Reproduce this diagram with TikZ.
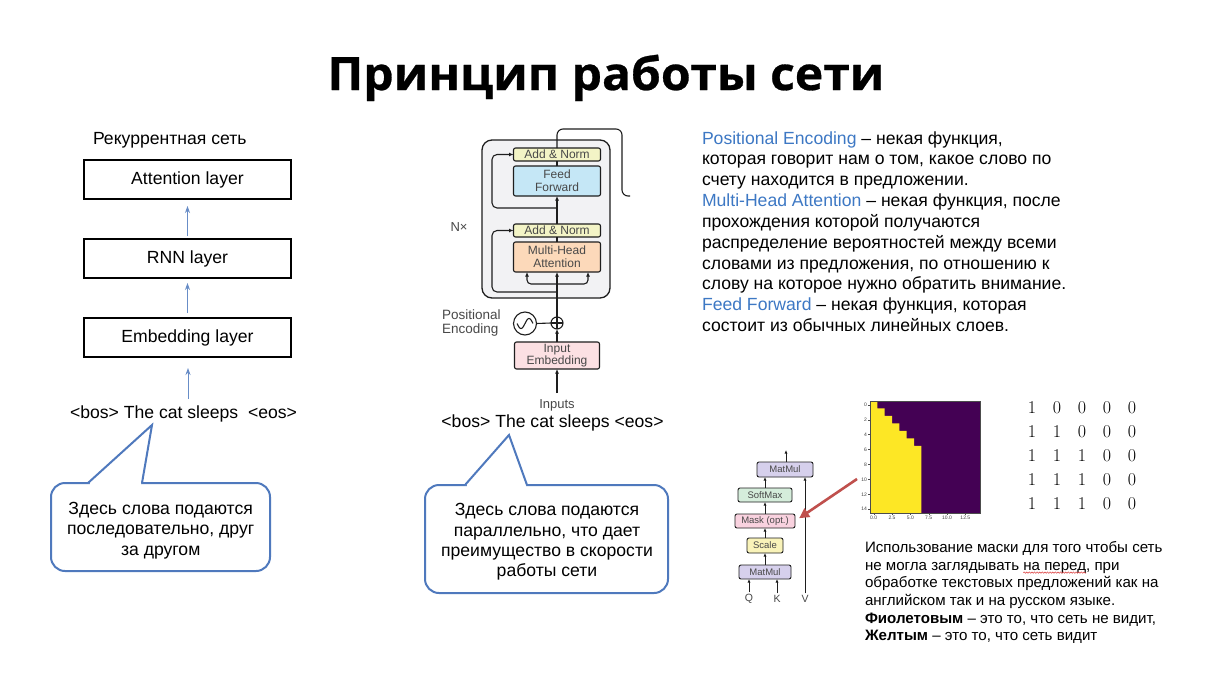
\documentclass[tikz,border=0pt]{standalone}
\usepackage{fontspec}
\setsansfont{Liberation Sans}
\newfontfamily\titlefont{Open Sans}[BoldFeatures={FakeBold=0.6}]
\usetikzlibrary{arrows.meta,decorations.pathmorphing}
\newcommand\setfs[2]{\fontsize{#1}{#2}\selectfont}
\definecolor{spellred}{RGB}{220,60,60}
\definecolor{calloutblue}{RGB}{79,121,189}
\definecolor{arrowblue}{RGB}{104,141,199}
\definecolor{termblue}{RGB}{61,120,196}
\definecolor{tfgray}{RGB}{72,72,72}
\definecolor{tfdark}{RGB}{30,30,30}
\definecolor{tfpanel}{RGB}{242,242,244}
\definecolor{normfill}{RGB}{243,244,198}
\definecolor{fffill}{RGB}{197,231,246}
\definecolor{mhafill}{RGB}{252,217,186}
\definecolor{embfill}{RGB}{252,224,227}
\definecolor{mmfill}{RGB}{214,208,236}
\definecolor{smfill}{RGB}{213,237,219}
\definecolor{maskfill}{RGB}{249,210,223}
\definecolor{scalefill}{RGB}{249,243,185}
\definecolor{redarrow}{RGB}{192,80,77}
\definecolor{vyellow}{RGB}{253,231,37}
\definecolor{vpurple}{RGB}{68,1,84}

\begin{document}
\begin{tikzpicture}[x=1pt,y=-1pt,font=\sffamily,
  every node/.style={inner sep=0pt, outer sep=0pt},
  body/.style={font=\sffamily\setfs{17.6}{21}},
  small/.style={font=\sffamily\setfs{15.1}{18}},
  layer/.style={draw=black, line width=1.4pt, minimum width=207pt, minimum height=39pt, body},
  larrow/.style={draw=arrowblue, line width=0.9pt, -{Stealth[length=7pt,width=5pt]}},
  callout/.style={draw=calloutblue, line width=2pt, fill=white, rounded corners=14pt},
  callouttail/.style={draw=calloutblue, line width=2pt, fill=white, line join=miter},
  tfbox/.style={draw=tfdark, line width=1.1pt, rounded corners=2pt, minimum width=87pt,
    text=tfgray, align=center, font=\sffamily\setfs{12}{12.7}},
  tfwire/.style={draw=tfdark, line width=1.1pt},
  tfarrow/.style={tfwire, -{Latex[length=4.5pt,width=4pt]}},
  tflabel/.style={text=tfgray, font=\sffamily\setfs{13.5}{15}},
  mbox/.style={draw=tfdark, line width=0.9pt, rounded corners=2pt, text=tfgray,
    font=\sffamily\setfs{9.5}{11}},
  marrow/.style={draw=tfdark, line width=0.9pt, -{Latex[length=3.5pt,width=3pt]}},
  ticklabel/.style={text=black!75, font=\sffamily\setfs{5}{6}},
  mxdigit/.style={font=\rmfamily\setfs{18}{20}}
]
\useasboundingbox (0,0) rectangle (1209,680);
\fill[white] (0,0) rectangle (1209,680);

% ---------- title ----------
\node[anchor=base, font=\titlefont\bfseries\setfs{46}{55}] (title) at (606,90) {\scalebox{1.045}[1]{Принцип работы сети}};

% ---------- recurrent network stack ----------
\node[body, anchor=base west] (rnntitle) at (93,144) {Рекуррентная сеть};
\node[layer] (att) at (187.5,179.5) {Attention layer};
\node[layer] (rnn) at (187.5,258.5) {RNN layer};
\node[layer] (embl) at (187.5,337.5) {Embedding layer};
\node[body, anchor=base] (tokL) at (183.5,418) {<bos> The cat sleeps\ \ <eos>};
\coordinate (tokLtop) at (188,399);
\draw[larrow, shorten <=3pt, shorten >=7pt] (rnn.north) -- (att.south);
\draw[larrow, shorten <=5pt, shorten >=5pt] (embl.north) -- (rnn.south);
\draw[larrow, shorten >=11pt] (tokLtop) -- (tokLtop |- embl.south);

% left callout
\draw[callout] (51,483) rectangle (270,571);
\fill[white] (89.5,481.5) rectangle (140.5,485);
\filldraw[callouttail] (88,483) -- (152,425) -- (142,483);
\node[body, anchor=base] (cl1) at (160.7,514) {Здесь слова подаются};
\node[body, anchor=base] (cl2) at (160.7,534.5) {последовательно, друг};
\node[body, anchor=base] (cl3) at (160.7,555) {за другом};

% ---------- transformer encoder ----------
\draw[line width=1.3pt, draw=tfdark, fill=tfpanel, rounded corners=10pt] (482,140) rectangle (610,298);
\node[tfbox, fill=normfill, minimum height=13pt] (an2) at (557,154.5) {Add \& Norm};
\node[tfbox, fill=fffill, minimum height=30pt] (ff) at (557,181) {Feed\\Forward};
\node[tfbox, fill=normfill, minimum height=13pt] (an1) at (557,230.5) {Add \& Norm};
\node[tfbox, fill=mhafill, minimum height=30pt] (mha) at (557,257) {Multi-Head\\Attention};
\node[tfbox, fill=embfill, minimum width=85pt, minimum height=27pt] (emb) at (557,355.5) {Input\\Embedding};
\node[circle, draw=tfdark, line width=1.1pt, minimum size=12pt] (plus) at (557,323) {};
\draw[tfwire] (plus.north) -- (plus.south) (plus.west) -- (plus.east);
\node[circle, draw=tfdark, line width=1.1pt, minimum size=23pt] (pe) at (525,323.5) {};
\draw[tfwire] plot[domain=-1:1, samples=40, smooth] ({525+8*\x},{323.5-5*sin(180*\x)});
\draw[tfwire] (pe.east) -- (plus.west);
\node[tflabel, anchor=base west] (pos1) at (442,319) {Positional};
\node[tflabel, anchor=base west] (pos2) at (442,333) {Encoding};
\node[tflabel, font=\sffamily\setfs{13}{15}] (nx) at (459,227) {N×};
\node[tflabel, font=\sffamily\setfs{13}{15}] (inputs) at (557,405) {Inputs};
\coordinate (inTop) at (557,393);
\draw[tfarrow] (inTop) -- (emb.south);
\draw[tfarrow] (emb.north) -- (plus.south);
\draw[tfarrow] (plus.north) -- (mha.south);
\draw[tfarrow, rounded corners=4pt] (557,284) -| ([xshift=-30pt]mha.south);
\draw[tfarrow, rounded corners=4pt] (557,284) -| ([xshift=31pt]mha.south);
\draw[tfarrow, rounded corners=5pt] (557,292) -| (492,230.5) -- (an1.west);
\draw[tfarrow, rounded corners=5pt] (557,208) -| (492,154.5) -- (an2.west);
\draw[tfwire] (mha.north) -- (an1.south);
\draw[tfarrow] (an1.north) -- (ff.south);
\draw[tfwire] (ff.north) -- (an2.south);
\coordinate (tfout) at (630,196);
\draw[tfwire, rounded corners=6pt] (an2.north) |- (622,129) |- (tfout);
\node[body, anchor=base] (tokM) at (552.5,427) {<bos> The cat sleeps <eos>};

% middle callout
\draw[callout] (425,485) rectangle (668,593);
\fill[white] (466.5,483.5) rectangle (525.5,487);
\filldraw[callouttail] (465,485) -- (509,435) -- (527,485);
\node[body, anchor=base] (cm1) at (547,515.7) {Здесь слова подаются};
\node[body, anchor=base] (cm2) at (547,536) {параллельно, что дает};
\node[body, anchor=base] (cm3) at (547,556.7) {преимущество в скорости};
\node[body, anchor=base] (cm4) at (547,576.7) {работы сети};

% ---------- glossary ----------
\node[body, anchor=base west] (g1) at (702,144.0) {\textcolor{termblue}{Positional Encoding} – некая функция,};
\node[body, anchor=base west] (g2) at (702,164.85) {которая говорит нам о том, какое слово по};
\node[body, anchor=base west] (g3) at (702,185.7) {счету находится в предложении.};
\node[body, anchor=base west] (g4) at (702,206.55) {\textcolor{termblue}{Multi-Head Attention} – некая функция, после};
\node[body, anchor=base west] (g5) at (702,227.4) {прохождения которой получаются};
\node[body, anchor=base west] (g6) at (702,248.25) {распределение вероятностей между всеми};
\node[body, anchor=base west] (g7) at (702,269.1) {словами из предложения, по отношению к};
\node[body, anchor=base west] (g8) at (702,289.95) {слову на которое нужно обратить внимание.};
\node[body, anchor=base west] (g9) at (702,310.8) {\textcolor{termblue}{Feed Forward} – некая функция, которая};
\node[body, anchor=base west] (g10) at (702,331.65) {состоит из обычных линейных слоев.};

% ---------- scaled dot-product attention ----------
\node[mbox, fill=mmfill, minimum width=56pt, minimum height=15pt] (mm2) at (785,469.5) {MatMul};
\node[mbox, fill=smfill, minimum width=54pt, minimum height=14pt] (sm) at (765,495) {SoftMax};
\node[mbox, fill=maskfill, minimum width=60pt, minimum height=14pt] (mk) at (765,521) {Mask (opt.)};
\node[mbox, fill=scalefill, minimum width=36pt, minimum height=15pt] (sc) at (765,545.5) {Scale};
\node[mbox, fill=mmfill, minimum width=52pt, minimum height=14pt] (mm1) at (765,572) {MatMul};
\node[mbox, draw=none, fill=none, font=\sffamily\setfs{10.5}{12}] (q) at (749,599) {Q};
\node[mbox, draw=none, fill=none, font=\sffamily\setfs{10.5}{12}] (k) at (777,599) {K};
\node[mbox, draw=none, fill=none, font=\sffamily\setfs{10.5}{12}] (v) at (805,599) {V};
\draw[marrow] (mm1.north) -- (sc.south);
\draw[marrow] (sc.north) -- (mk.south);
\draw[marrow] (mk.north) -- (sm.south);
\draw[marrow] (sm.north) -- (sm.north |- mm2.south);
\coordinate (attout) at (786,450);
\draw[marrow] (mm2.north -| attout) -- (attout);
\draw[marrow, shorten <=2pt] (q.north) -- (q.north |- mm1.south);
\draw[marrow, shorten <=2pt] (k.north) -- (k.north |- mm1.south);
\draw[marrow, shorten <=2pt] (v.north) -- (v.north |- mm2.south);

% ---------- mask heat map ----------
\fill[vpurple] (870,401) rectangle (980,513);
\fill[vyellow] (870,401)
  foreach \r in {0,...,6} { -- ({870+(\r+1)*7.333},{401+\r*7.467}) -- ({870+(\r+1)*7.333},{401+(\r+1)*7.467}) }
  -- (921.33,513) -- (870,513) -- cycle;
\draw[line width=0.4pt, black!70] (870,401) rectangle (980,513);
\foreach \k in {0,2,...,14} {
  \draw[line width=0.3pt, black!70] (868,{401+(\k+0.5)*7.467}) -- (870,{401+(\k+0.5)*7.467});
  \node[ticklabel, anchor=east] (ytick\k) at (867,{401+(\k+0.5)*7.467}) {\k};
}
\foreach \v/\t [count=\n] in {0/0.0, 2.5/2.5, 5/5.0, 7.5/7.5, 10/10.0, 12.5/12.5} {
  \draw[line width=0.3pt, black!70] ({870+(\v+0.5)*7.333},513) -- ({870+(\v+0.5)*7.333},515);
  \node[ticklabel, anchor=north] (xtick\n) at ({870+(\v+0.5)*7.333},516.5) {\t};
}
\coordinate (heatleft) at (857,479);
\draw[draw=redarrow, line width=2.6pt, -{Triangle[length=10pt,width=10pt]}, shorten >=5pt] (heatleft) -- (mk.east);

% ---------- mask matrix ----------
\foreach \vals [count=\i] in {{1,0,0,0,0},{1,1,0,0,0},{1,1,1,0,0},{1,1,1,0,0},{1,1,1,0,0}} {
  \foreach \d [count=\j] in \vals {
    \node[mxdigit] (m-\i-\j) at ({1007+25*\j},{384+24*\i}) {\d};
  }
}

% ---------- mask note ----------
\node[small, anchor=base west] (n1) at (865,552.3) {Использование маски для того чтобы сеть};
\node[small, anchor=base west] (n2a) at (865,570.0) {не могла заглядывать};
\node[small, anchor=base west] (n2b) at ([xshift=4.2pt]n2a.base east) {на перед};
\node[small, anchor=base west] (n2c) at (n2b.base east) {, при};
\draw[spellred, line width=0.5pt, decorate, decoration={snake, amplitude=0.7pt, segment length=2.6pt}]
  ([yshift=-2.6pt]n2b.base west) -- ([yshift=-2.6pt]n2b.base east);
\node[small, anchor=base west] (n3) at (865,587.7) {обработке текстовых предложений как на};
\node[small, anchor=base west] (n4) at (865,605.4) {английском так и на русском языке.};
\node[small, anchor=base west] (n5) at (865,623.1) {\textbf{Фиолетовым} – это то, что сеть не видит,};
\node[small, anchor=base west] (n6) at (865,640.8) {\textbf{Желтым} – это то, что сеть видит};
\end{tikzpicture}
\end{document}
